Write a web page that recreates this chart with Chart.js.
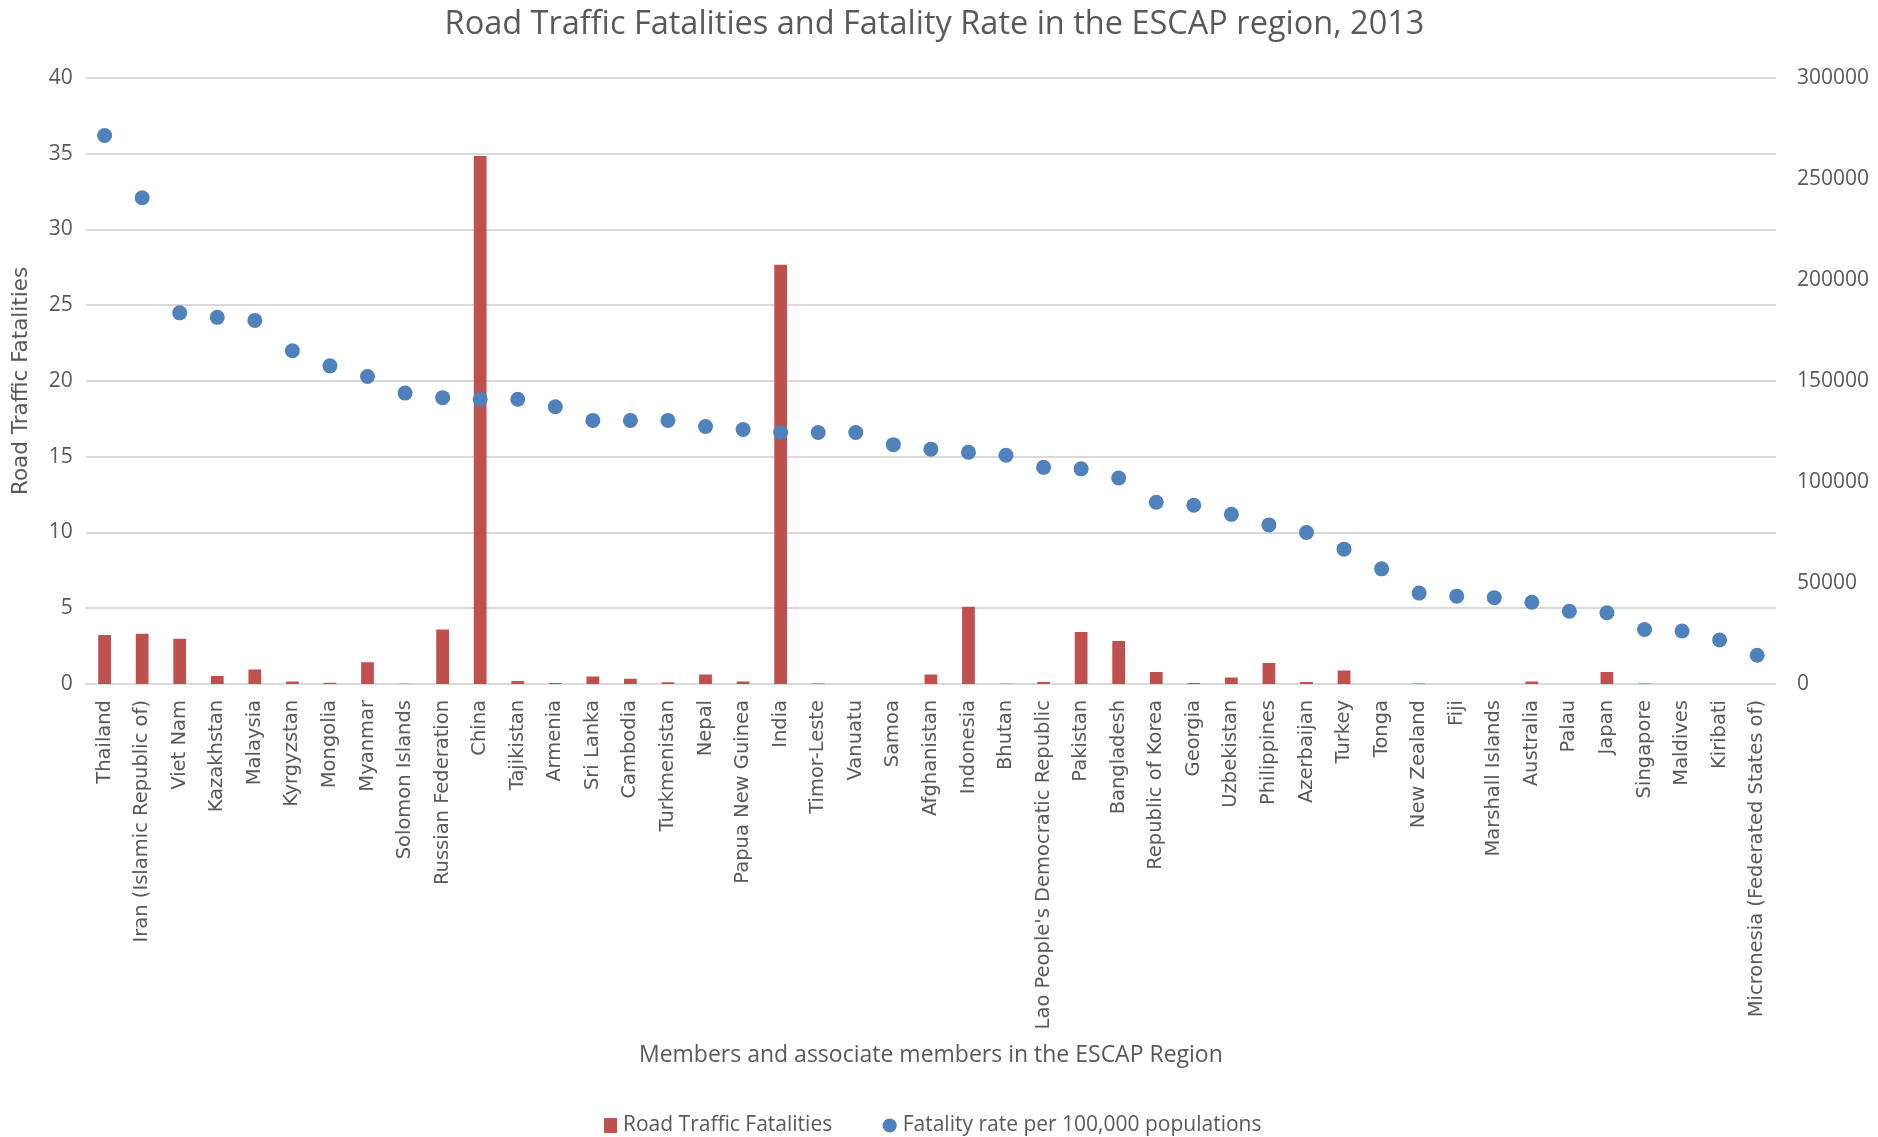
<!DOCTYPE html>
<html>
<head>
<meta charset="utf-8">
<script src="https://cdn.jsdelivr.net/npm/chart.js@4"></script>
<style>
  body { margin: 0; background: #fff; }
  #wrap { width: 1878px; height: 1137px; position: relative; }
</style>
</head>
<body>
<div id="wrap"><canvas id="chart"></canvas></div>
<script>
// Данные: страны ESCAP, 2013
const countries = [
  'Thailand', 'Iran (Islamic Republic of)', 'Viet Nam', 'Kazakhstan', 'Malaysia',
  'Kyrgyzstan', 'Mongolia', 'Myanmar', 'Solomon Islands', 'Russian Federation',
  'China', 'Tajikistan', 'Armenia', 'Sri Lanka', 'Cambodia',
  'Turkmenistan', 'Nepal', 'Papua New Guinea', 'India', 'Timor-Leste',
  'Vanuatu', 'Samoa', 'Afghanistan', 'Indonesia', 'Bhutan',
  "Lao People's Democratic Republic", 'Pakistan', 'Bangladesh', 'Republic of Korea', 'Georgia',
  'Uzbekistan', 'Philippines', 'Azerbaijan', 'Turkey', 'Tonga',
  'New Zealand', 'Fiji', 'Marshall Islands', 'Australia', 'Palau',
  'Japan', 'Singapore', 'Maldives', 'Kiribati', 'Micronesia (Federated States of)'
];

// число погибших (правая ось)
const fatalities = [
  24237, 24896, 22419, 3983, 7129,
  1220, 597, 10809, 108, 27025,
  261367, 1543, 546, 3691, 2635,
  914, 4713, 1232, 207551, 188,
  42, 30, 4734, 38279, 114,
  971, 25781, 21316, 5931, 514,
  3240, 10379, 943, 6687, 8,
  272, 51, 3, 1252, 1,
  5971, 197, 12, 3, 2
];

// на 100 000 населения (левая ось)
const fatalityRate = [
  36.2, 32.1, 24.5, 24.2, 24.0,
  22.0, 21.0, 20.3, 19.2, 18.9,
  18.8, 18.8, 18.3, 17.4, 17.4,
  17.4, 17.0, 16.8, 16.6, 16.6,
  16.6, 15.8, 15.5, 15.3, 15.1,
  14.3, 14.2, 13.6, 12.0, 11.8,
  11.2, 10.5, 10.0, 8.9, 7.6,
  6.0, 5.8, 5.7, 5.4, 4.8,
  4.7, 3.6, 3.5, 2.9, 1.9
];

const leftTicks = [0, 5, 10, 15, 20, 25, 30, 35, 40];
const rightTicks = [0, 50000, 100000, 150000, 200000, 250000, 300000];

const textGray = '#595959';
const barRed = '#C0504D';
const dotBlue = '#4F81BD';
const calibriLike = "'Open Sans', sans-serif";
const verdanaLike = "'DejaVu Sans', sans-serif";

// маленький красный квадрат для легенды
let legendRect = document.createElement('canvas');
legendRect.width = 13;
legendRect.height = 15;
let lctx = legendRect.getContext('2d');
lctx.fillStyle = barRed;
lctx.fillRect(0, 0, 13, 15);

let ctx = document.getElementById('chart').getContext('2d');

let chart = new Chart(ctx, {
  type: 'bar',
  data: {
    labels: countries,
    datasets: [{
      type: 'bar',
      label: 'Road Traffic Fatalities',
      data: fatalities,
      yAxisID: 'y1',
      backgroundColor: barRed,
      borderWidth: 0,
      barPercentage: 0.34,
      categoryPercentage: 1,
      pointStyle: legendRect,
      order: 2
    }, {
      type: 'line',
      label: 'Fatality rate per 100,000 populations',
      data: fatalityRate,
      yAxisID: 'y',
      showLine: false,
      pointRadius: 7.5,
      pointHoverRadius: 7.5,
      pointBackgroundColor: dotBlue,
      pointBorderColor: dotBlue,
      pointBorderWidth: 0,
      backgroundColor: dotBlue,
      borderColor: dotBlue,
      pointStyle: 'circle',
      order: 1
    }]
  },
  options: {
    responsive: true,
    maintainAspectRatio: false,
    animation: false,
    // отрицательные отступы сдвигают заголовок и легенду к центру как в оригинале
    layout: { padding: { left: -21, right: -12, top: 4, bottom: -9 } },
    plugins: {
      title: {
        display: true,
        text: 'Road Traffic Fatalities and Fatality Rate in the ESCAP region, 2013',
        color: textGray,
        font: { family: calibriLike, size: 32.5, weight: 'normal' },
        padding: { top: 1, bottom: 34 }
      },
      legend: {
        position: 'bottom',
        labels: {
          usePointStyle: true,
          boxWidth: 5,
          boxHeight: 10,
          padding: 55,
          color: textGray,
          font: { family: calibriLike, size: 21 },
          sort: (a, b) => a.datasetIndex - b.datasetIndex
        }
      },
      tooltip: { enabled: false }
    },
    scales: {
      x: {
        grid: { display: false },
        border: { display: true, color: '#D9D9D9', width: 2 },
        ticks: {
          minRotation: 90,
          maxRotation: 90,
          autoSkip: false,
          color: textGray,
          padding: 8,
          font: { family: verdanaLike, size: 19.5 }
        },
        title: {
          display: true,
          text: 'Members and associate members in the ESCAP Region',
          color: textGray,
          font: { family: calibriLike, size: 23 },
          padding: { top: 4, bottom: -9 }
        }
      },
      y: {
        position: 'left',
        min: 0,
        max: 40,
        afterBuildTicks: axis => { axis.ticks = leftTicks.map(v => ({ value: v })); },
        grid: { color: '#D9D9D9', lineWidth: 2, drawTicks: false },
        border: { display: false },
        ticks: {
          color: textGray,
          padding: 13,
          font: { family: calibriLike, size: 21 }
        },
        title: {
          display: true,
          text: 'Road Traffic Fatalities',
          color: textGray,
          font: { family: verdanaLike, size: 21.5 },
          padding: { top: 30, bottom: 1 }
        }
      },
      y1: {
        position: 'right',
        min: 0,
        max: 300000,
        afterBuildTicks: axis => { axis.ticks = rightTicks.map(v => ({ value: v })); },
        grid: { display: false, drawTicks: false },
        border: { display: false },
        ticks: {
          color: textGray,
          padding: 21,
          font: { family: calibriLike, size: 21 },
          callback: v => String(v)
        }
      }
    }
  }
});
</script>
</body>
</html>
